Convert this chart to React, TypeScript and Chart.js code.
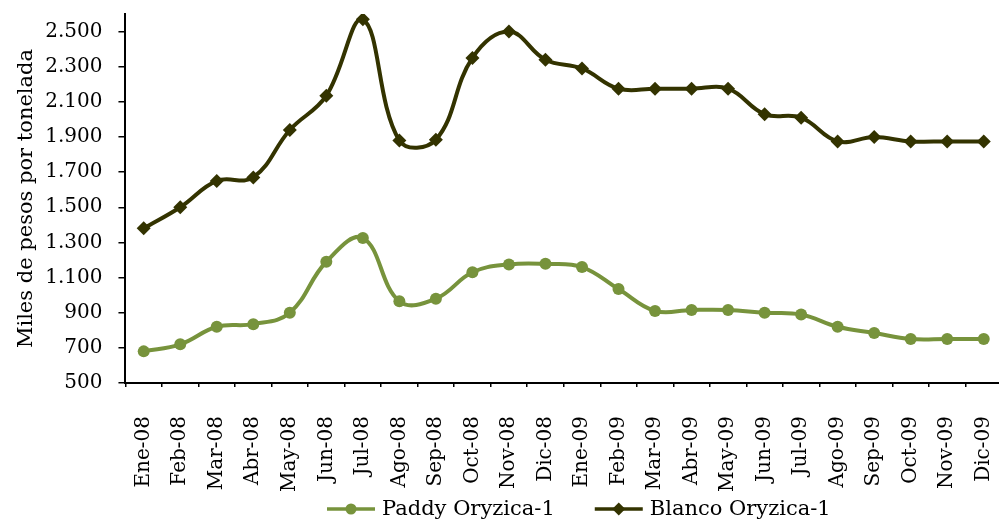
import React, { useEffect, useRef } from "react";
import { Chart, registerables } from "chart.js";

Chart.register(...registerables);

const categories = [
  "Ene-08", "Feb-08", "Mar-08", "Abr-08", "May-08", "Jun-08", "Jul-08", "Ago-08",
  "Sep-08", "Oct-08", "Nov-08", "Dic-08", "Ene-09", "Feb-09", "Mar-09", "Abr-09",
  "May-09", "Jun-09", "Jul-09", "Ago-09", "Sep-09", "Oct-09", "Nov-09", "Dic-09",
];

const paddy = [
  680, 720, 820, 835, 900, 1190, 1325, 965, 980, 1130, 1175, 1178,
  1160, 1035, 910, 916, 916, 900, 890, 820, 785, 750, 750, 750,
];

const blanco = [
  1380, 1500, 1650, 1670, 1940, 2135, 2570, 1880, 1885, 2350, 2500, 2340,
  2290, 2175, 2175, 2175, 2175, 2030, 2010, 1875, 1900, 1875, 1875, 1875,
];

const yTicks = [500, 700, 900, 1100, 1300, 1500, 1700, 1900, 2100, 2300, 2500];

const PADDY_COLOR = "#77933C";
const BLANCO_COLOR = "#333300";
const FONT = "'DejaVu Serif', 'Liberation Serif', serif";

function fmt(v: number): string {
  const s = Math.round(v).toString();
  return s.replace(/\B(?=(\d{3})+(?!\d))/g, ".");
}

const customLegend = {
  id: "customLegend",
  afterDraw(chart: any) {
    const ctx = chart.ctx as CanvasRenderingContext2D;
    const y = 509;
    let x = 327;
    ctx.save();
    ctx.font = `21px ${FONT}`;
    ctx.textBaseline = "middle";
    ctx.textAlign = "left";
    chart.data.datasets.forEach((ds: any) => {
      const color = ds.borderColor;
      ctx.strokeStyle = color;
      ctx.fillStyle = color;
      ctx.lineWidth = 3.5;
      ctx.beginPath();
      ctx.moveTo(x, y);
      ctx.lineTo(x + 48, y);
      ctx.stroke();
      const cx = x + 24;
      ctx.beginPath();
      if (ds.pointStyle === "circle") {
        ctx.arc(cx, y, 5.5, 0, Math.PI * 2);
      } else {
        ctx.moveTo(cx, y - 6.5);
        ctx.lineTo(cx + 6.5, y);
        ctx.lineTo(cx, y + 6.5);
        ctx.lineTo(cx - 6.5, y);
        ctx.closePath();
      }
      ctx.fill();
      ctx.fillStyle = "#000";
      ctx.fillText(ds.label, x + 55, y + 1);
      x += 55 + ctx.measureText(ds.label).width + 40;
    });
    ctx.restore();
  },
};

export default function App() {
  const ref = useRef<HTMLCanvasElement>(null);

  useEffect(() => {
    if (!ref.current) return;
    const chart = new Chart(ref.current, {
      type: "line",
      data: {
        labels: categories,
        datasets: [
          {
            label: "Paddy Oryzica-1",
            data: paddy,
            borderColor: PADDY_COLOR,
            backgroundColor: PADDY_COLOR,
            borderWidth: 4,
            pointStyle: "circle",
            pointRadius: 6,
            pointBorderWidth: 0,
            tension: 0.4,
          },
          {
            label: "Blanco Oryzica-1",
            data: blanco,
            borderColor: BLANCO_COLOR,
            backgroundColor: BLANCO_COLOR,
            borderWidth: 4,
            pointStyle: "rectRot",
            pointRadius: 7,
            pointBorderWidth: 0,
            tension: 0.4,
          },
        ],
      },
      plugins: [customLegend],
      options: {
        animation: false,
        responsive: false,
        devicePixelRatio: 1,
        layout: { padding: { left: 2, right: 0, top: 14, bottom: 0 } },
        plugins: {
          tooltip: { enabled: false },
          legend: { display: false },
        },
        scales: {
          x: {
            offset: true,
            border: { display: true, color: "#000", width: 2 },
            grid: {
              display: true,
              drawOnChartArea: false,
              drawTicks: true,
              tickLength: 4,
              color: "#000",
              lineWidth: 1.5,
              offset: true,
            },
            afterFit: (axis: any) => {
              axis.height = 139;
              axis.paddingLeft = 0;
              axis.paddingRight = 0;
            },
            ticks: {
              color: "#000",
              font: { family: FONT, size: 20 },
              minRotation: 90,
              maxRotation: 90,
              autoSkip: false,
              padding: 29,
            },
          },
          y: {
            min: 500,
            max: 2600,
            border: { display: true, color: "#000", width: 2 },
            grid: {
              display: true,
              drawOnChartArea: false,
              drawTicks: true,
              tickLength: 7,
              color: "#000",
              lineWidth: 1.5,
            },
            afterBuildTicks: (axis: any) => {
              axis.ticks = yTicks.map((v) => ({ value: v }));
            },
            afterFit: (axis: any) => {
              axis.paddingTop = 0;
              axis.paddingBottom = 0;
            },
            ticks: {
              color: "#000",
              font: { family: FONT, size: 20 },
              padding: 16,
              callback: (v: any) => fmt(Number(v)),
            },
            title: {
              display: true,
              text: "Miles de pesos por tonelada",
              color: "#000",
              font: { family: FONT, size: 21 },
              padding: { top: 12, bottom: -10 },
            },
          },
        },
      },
    });
    return () => chart.destroy();
  }, []);

  return (
    <div style={{ position: "fixed", left: 0, top: 0, width: 999, height: 522, overflow: "hidden", background: "#fff" }}>
      <canvas ref={ref} width={1009} height={522} style={{ display: "block" }} />
    </div>
  );
}
